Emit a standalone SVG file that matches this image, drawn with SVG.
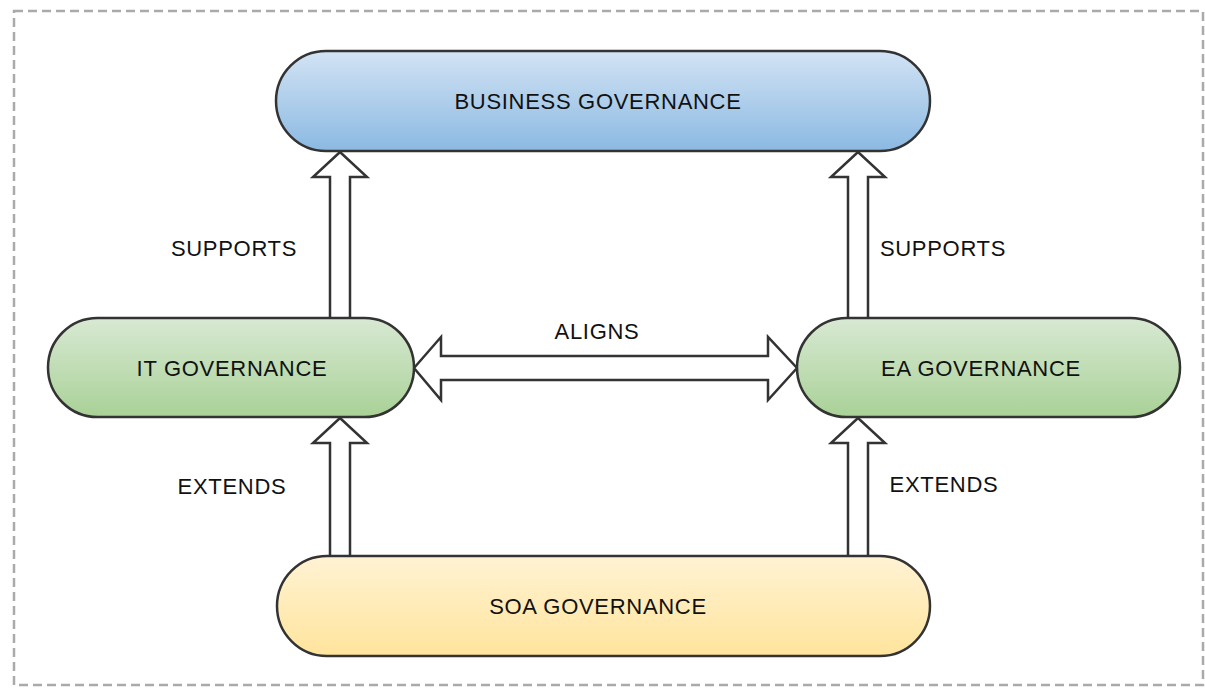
<svg xmlns="http://www.w3.org/2000/svg" width="1205" height="691" viewBox="0 0 1205 691">
<defs>
<linearGradient id="gBlue" x1="0" y1="0" x2="0" y2="1"><stop offset="0" stop-color="#d2e3f4"/><stop offset="1" stop-color="#8bb9e2"/></linearGradient>
<linearGradient id="gGreen" x1="0" y1="0" x2="0" y2="1"><stop offset="0" stop-color="#d8e9d3"/><stop offset="1" stop-color="#a9d197"/></linearGradient>
<linearGradient id="gYellow" x1="0" y1="0" x2="0" y2="1"><stop offset="0" stop-color="#fff3d4"/><stop offset="1" stop-color="#ffe49c"/></linearGradient>
</defs>
<style>
.node{stroke:#333;stroke-width:2.5}
.lbl{font-family:"Liberation Sans",Arial,sans-serif;font-size:22px;fill:#111;letter-spacing:0.7px;text-anchor:middle;dominant-baseline:central}
.arr{fill:#fff;stroke:#333;stroke-width:2.5;stroke-linejoin:miter}
</style>
<rect x="14" y="11" width="1189" height="674" fill="none" stroke="#aaa" stroke-width="2.5" stroke-dasharray="9,5"/>
<g id="connectors">
<path class="arr" d="M330,318 V177 H313 L340,152 L367,177 H350 V318"/>
<path class="arr" d="M330,556 V443 H313 L340,418 L367,443 H350 V556"/>
<path class="arr" d="M848,318 V177 H831 L858,152 L885,177 H868 V318"/>
<path class="arr" d="M848,556 V443 H831 L858,418 L885,443 H868 V556"/>
<path class="arr" d="M414,368 L441,337 V356 H768 V337 L797,368 L768,400 V380 H441 V400 Z"/>
<text class="lbl" x="234" y="248">SUPPORTS</text>
<text class="lbl" x="943" y="248">SUPPORTS</text>
<text class="lbl" x="232" y="486">EXTENDS</text>
<text class="lbl" x="944" y="484">EXTENDS</text>
<text class="lbl" x="597" y="331">ALIGNS</text>
</g>
<g id="business">
<rect class="node" x="276" y="51" width="654" height="100" rx="50" fill="url(#gBlue)"/>
<text class="lbl" x="598" y="101">BUSINESS GOVERNANCE</text>
</g>
<g id="it">
<rect class="node" x="48" y="318" width="366" height="99" rx="49.5" fill="url(#gGreen)"/>
<text class="lbl" x="232" y="368">IT GOVERNANCE</text>
</g>
<g id="ea">
<rect class="node" x="797" y="318" width="383" height="99" rx="49.5" fill="url(#gGreen)"/>
<text class="lbl" x="981" y="368">EA GOVERNANCE</text>
</g>
<g id="soa">
<rect class="node" x="277" y="556" width="653" height="100" rx="50" fill="url(#gYellow)"/>
<text class="lbl" x="598" y="606">SOA GOVERNANCE</text>
</g>
</svg>
